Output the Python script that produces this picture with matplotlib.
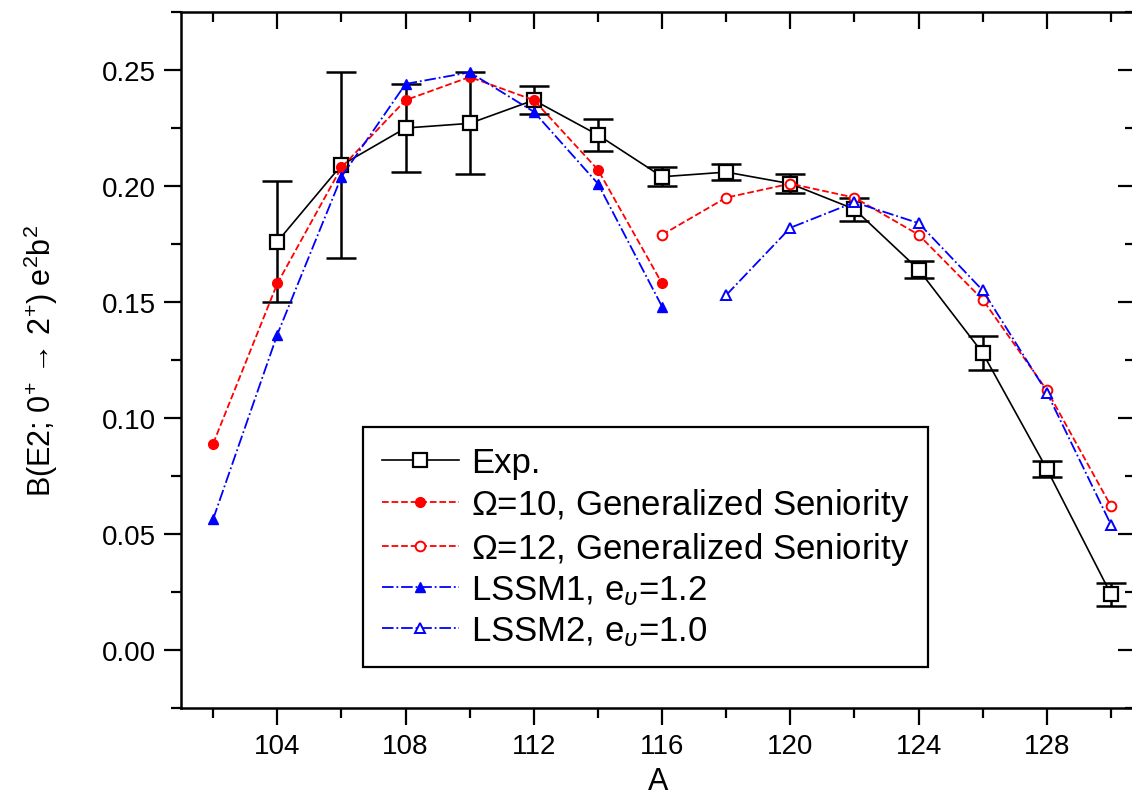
import matplotlib
matplotlib.use("Agg")
import matplotlib.pyplot as plt
from matplotlib.ticker import MultipleLocator
import numpy as np

plt.rcParams['font.family'] = ['Liberation Sans', 'DejaVu Sans']
plt.rcParams['mathtext.fontset'] = 'custom'
plt.rcParams['mathtext.rm'] = 'Liberation Sans'
plt.rcParams['mathtext.it'] = 'Liberation Sans:italic'

# Experimental B(E2) values with errors
a_exp = [104, 106, 108, 110, 112, 114, 116, 118, 120, 122, 124, 126, 128, 130]
b_exp = [0.176, 0.209, 0.225, 0.227, 0.237, 0.222, 0.204, 0.206, 0.201, 0.190, 0.164, 0.128, 0.078, 0.024]
err_exp = [0.026, 0.040, 0.019, 0.022, 0.006, 0.007, 0.004, 0.0035, 0.004, 0.005, 0.0035, 0.0075, 0.0035, 0.005]

# Generalized seniority, Omega = 10 and 12
a_om10 = [102, 104, 106, 108, 110, 112, 114, 116]
b_om10 = [0.089, 0.158, 0.208, 0.237, 0.247, 0.237, 0.207, 0.158]
a_om12 = [116, 118, 120, 122, 124, 126, 128, 130]
b_om12 = [0.179, 0.195, 0.201, 0.195, 0.179, 0.151, 0.112, 0.062]

# LSSM calculations
a_lssm1 = [102, 104, 106, 108, 110, 112, 114, 116]
b_lssm1 = [0.0565, 0.136, 0.204, 0.244, 0.249, 0.232, 0.201, 0.148]
a_lssm2 = [118, 120, 122, 124, 126, 128, 130]
b_lssm2 = [0.153, 0.182, 0.193, 0.184, 0.155, 0.111, 0.054]

xlim = (101, 130.75)
ylim = (-0.025, 0.275)
pos = [0.160, 0.117, 0.8427, 0.8668]

fig = plt.figure(figsize=(11.32, 8.03), dpi=100)
ax = fig.add_axes(pos)

ax.errorbar(a_exp, b_exp, yerr=err_exp, fmt='none', ecolor='black',
            elinewidth=1.8, capsize=11, capthick=1.8, zorder=2)
ax.plot(a_exp, b_exp, color='black', linestyle='-', linewidth=1.2,
        marker='s', markersize=10, markerfacecolor='white',
        markeredgecolor='black', markeredgewidth=1.6,
        label='Exp.', zorder=3)
ax.plot(a_om10, b_om10, color='red', linestyle='--', linewidth=1.3,
        marker='o', markersize=7, markerfacecolor='red',
        markeredgecolor='red', label=r'$\Omega$=10, Generalized Seniority', zorder=4)
ax.plot(a_om12, b_om12, color='red', linestyle='--', linewidth=1.3,
        marker='o', markersize=7, markerfacecolor='white',
        markeredgecolor='red', markeredgewidth=1.4,
        label=r'$\Omega$=12, Generalized Seniority', zorder=4)
ax.plot(a_lssm1, b_lssm1, color='blue', linestyle='-.', linewidth=1.3,
        marker='^', markersize=7, markerfacecolor='blue',
        markeredgecolor='blue', label=r'LSSM1, e$_{\upsilon}$=1.2', zorder=4)
ax.plot(a_lssm2, b_lssm2, color='blue', linestyle='-.', linewidth=1.3,
        marker='^', markersize=7, markerfacecolor='white',
        markeredgecolor='blue', markeredgewidth=1.4,
        label=r'LSSM2, e$_{\upsilon}$=1.0', zorder=4)

ax.set_xlim(*xlim)
ax.set_ylim(*ylim)
ax.xaxis.set_minor_locator(MultipleLocator(2))
ax.yaxis.set_minor_locator(MultipleLocator(0.025))
ax.set_xticks([104, 108, 112, 116, 120, 124, 128])
ax.set_yticks([0.0, 0.05, 0.10, 0.15, 0.20, 0.25])
ax.set_yticklabels(['0.00', '0.05', '0.10', '0.15', '0.20', '0.25'])

ax.tick_params(axis='both', which='major', direction='out', length=12, width=1.6,
               labelsize=20, pad=6)
ax.tick_params(axis='both', which='minor', direction='out', length=7, width=1.6)
for s in ax.spines.values():
    s.set_linewidth(1.8)

# inward ticks on top and right, drawn on an overlay axes
ax2 = fig.add_axes(pos, frameon=False)
ax2.set_xlim(*xlim)
ax2.set_ylim(*ylim)
ax2.xaxis.tick_top()
ax2.yaxis.tick_right()
ax2.set_xticks([104, 108, 112, 116, 120, 124, 128])
ax2.set_yticks([0.0, 0.05, 0.10, 0.15, 0.20, 0.25])
ax2.xaxis.set_minor_locator(MultipleLocator(2))
ax2.yaxis.set_minor_locator(MultipleLocator(0.025))
ax2.tick_params(which='major', direction='in', length=12, width=1.6,
                labeltop=False, labelright=False)
ax2.tick_params(which='minor', direction='in', length=7, width=1.6)
ax2.patch.set_visible(False)

ax.set_xlabel('A', fontsize=22, labelpad=5)
ax.set_ylabel('B(E2; 0$^{+}$ \u2192 2$^{+}$) e$^{2}$b$^{2}$', fontsize=22, labelpad=30)

leg = ax.legend(loc='lower left', bbox_to_anchor=(0.1908, 0.0589), fontsize=25,
                frameon=True, fancybox=False, edgecolor='black', framealpha=1,
                handlelength=2.2, handletextpad=0.35, labelspacing=0.2,
                borderpad=0.55, borderaxespad=0)
leg.get_frame().set_linewidth(1.6)

plt.savefig('out.png', dpi=100)
